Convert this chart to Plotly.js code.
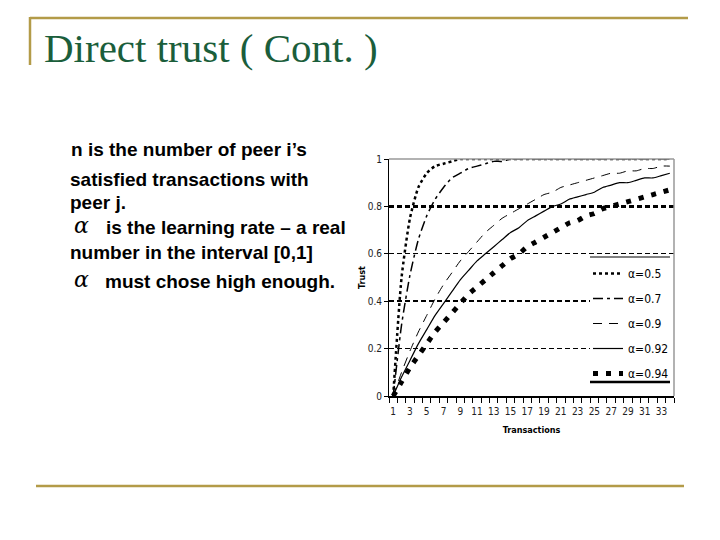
<!DOCTYPE html>
<html>
<head>
<meta charset="utf-8">
<script src="https://cdn.plot.ly/plotly-3.0.1.min.js"></script>
<style>
  html, body { margin: 0; padding: 0; background: #ffffff; }
  #chart { width: 720px; height: 540px; }
</style>
</head>
<body>
<div id="chart"></div>
<script>
// ---------- data ----------
const transactions = [1,2,3,4,5,6,7,8,9,10,11,12,13,14,15,16,17,18,19,20,21,22,23,24,25,26,27,28,29,30,31,32,33,34];
const seriesNames = ["α=0.5", "α=0.7", "α=0.9", "α=0.92", "α=0.94"];
const trust05 = [0,0.50,0.75,0.88,0.94,0.97,0.98,0.99,1.00,1.00,1.00,1.00,1.00,1.00,1.00,1.00,1.00,1.00,1.00,1.00,1.00,1.00,1.00,1.00,1.00,1.00,1.00,1.00,1.00,1.00,1.00,1.00,1.00,1.00];
const trust07 = [0,0.30,0.51,0.66,0.76,0.83,0.88,0.92,0.94,0.96,0.97,0.98,0.99,0.99,1.00,1.00,1.00,1.00,1.00,1.00,1.00,1.00,1.00,1.00,1.00,1.00,1.00,1.00,1.00,1.00,1.00,1.00,1.00,1.00];
const trust09 = [0,0.10,0.19,0.27,0.34,0.41,0.47,0.52,0.57,0.61,0.65,0.69,0.72,0.75,0.77,0.79,0.81,0.83,0.85,0.86,0.88,0.89,0.90,0.91,0.92,0.93,0.94,0.94,0.95,0.95,0.96,0.96,0.97,0.97];
const trust092 = [0,0.08,0.15,0.22,0.28,0.34,0.39,0.44,0.49,0.53,0.57,0.60,0.63,0.66,0.69,0.71,0.74,0.76,0.78,0.80,0.81,0.83,0.84,0.85,0.86,0.88,0.89,0.90,0.90,0.91,0.92,0.92,0.93,0.94];
const trust094 = [0,0.06,0.12,0.17,0.22,0.27,0.31,0.35,0.39,0.43,0.46,0.49,0.52,0.55,0.58,0.60,0.63,0.65,0.67,0.69,0.71,0.73,0.74,0.76,0.77,0.79,0.80,0.81,0.82,0.83,0.84,0.85,0.86,0.87];
const xTickLabels = transactions.filter(n => n % 2 === 1);
const yTickLabels = [0, 0.2, 0.4, 0.6, 0.8, 1];
const thickGridValues = [0.4, 0.8];

const slideTitle = "Direct trust ( Cont. )";
const bodyLines = [
  "n is the number of peer i’s",
  "satisfied transactions with",
  "peer j.",
  "is the learning rate – a real",
  "number in the interval [0,1]",
  "must chose high enough."
];
const alphaGlyph = "α";

// ---------- layout helpers ----------
const W = 720, H = 540;
const PL = 389, PR = 674, PT = 159, PB = 396;
const px2x = p => (p - PL) / (PR - PL);
const py2y = p => (PB - p) / (PB - PT);

const narrow = "Liberation Sans Narrow, DejaVu Sans Condensed, Arial Narrow, Liberation Sans, sans-serif";
const sans = "Liberation Sans, Arial, sans-serif";
const serif = "Liberation Serif, Times New Roman, serif";
const gold = "#b39b48";

const styles = [
  {width: 2.5, dash: "dot"},
  {width: 1.5, dash: "10px,4px,3px,4px"},
  {width: 1, dash: "9px,7px"},
  {width: 1.2, dash: "solid"},
  {width: 5, dash: "5px,8px"}
];
const values = [trust05, trust07, trust09, trust092, trust094];

const traces = values.map((v, i) => ({
  type: "scatter",
  mode: "lines",
  x: transactions,
  y: v,
  name: seriesNames[i],
  legendgroup: seriesNames[i],
  yaxis: i === 4 ? "y2" : "y",
  line: {color: "#000000", width: styles[i].width, dash: styles[i].dash, shape: "spline", smoothing: 0.6},
  hoverinfo: "skip"
}));

const bodyPos = [
  {x: 70, y: 149}, {x: 69, y: 179}, {x: 69, y: 202},
  {x: 105, y: 227}, {x: 69, y: 252}, {x: 104, y: 281}
];

const annotations = [
  {text: slideTitle, x: px2x(42), y: py2y(48), xref: "paper", yref: "paper",
   xanchor: "left", yanchor: "middle", showarrow: false,
   font: {family: serif, size: 41, color: "#1b5e3b"}}
].concat(bodyLines.map((t, i) => ({
  text: t, x: px2x(bodyPos[i].x), y: py2y(bodyPos[i].y), xref: "paper", yref: "paper",
  xanchor: "left", yanchor: "middle", showarrow: false, borderpad: 0,
  font: {family: sans, size: 19, color: "#000000", weight: "bold"}
}))).concat([225, 279].map(py => ({
  text: "<i>" + alphaGlyph + "</i>", x: px2x(73), y: py2y(py), xref: "paper", yref: "paper",
  xanchor: "left", yanchor: "middle", showarrow: false, borderpad: 0,
  font: {family: "DejaVu Serif, Liberation Serif, serif", size: 22, color: "#000000"}
})));

const shapes = [
  // slide decoration
  {type: "line", xref: "paper", yref: "paper", x0: px2x(30), x1: px2x(688), y0: py2y(18), y1: py2y(18), line: {color: gold, width: 2.5}},
  {type: "line", xref: "paper", yref: "paper", x0: px2x(30), x1: px2x(30), y0: py2y(17), y1: py2y(65), line: {color: gold, width: 2.5}},
  {type: "line", xref: "paper", yref: "paper", x0: px2x(36), x1: px2x(684), y0: py2y(486), y1: py2y(486), line: {color: gold, width: 2.5}},
  // legend backing (hides gridlines behind the key)
  {type: "rect", xref: "paper", yref: "paper", x0: px2x(590), x1: 1, y0: py2y(382), y1: py2y(257), line: {width: 0}, fillcolor: "#ffffff", layer: "above"},
  // plot frame (top / right)
  {type: "line", xref: "paper", yref: "paper", x0: 0, x1: 1, y0: 1, y1: 1, line: {color: "#999999", width: 1.5}, layer: "above"},
  {type: "line", xref: "paper", yref: "paper", x0: 1, x1: 1, y0: 0, y1: 1, line: {color: "#999999", width: 1.5}, layer: "above"},
  // legend rules
  {type: "line", xref: "paper", yref: "paper", x0: px2x(590), x1: px2x(670), y0: py2y(257), y1: py2y(257), line: {color: "#000000", width: 1}, layer: "above"},
  {type: "line", xref: "paper", yref: "paper", x0: px2x(590), x1: px2x(670), y0: py2y(382), y1: py2y(382), line: {color: "#000000", width: 2.5}, layer: "above"}
];

const layout = {
  width: W, height: H,
  margin: {l: PL, r: W - PR, t: PT, b: H - PB, pad: 0},
  paper_bgcolor: "#ffffff",
  plot_bgcolor: "#ffffff",
  showlegend: true,
  legend: {
    x: px2x(588), xanchor: "left", y: py2y(259), yanchor: "top",
    bgcolor: "rgba(0,0,0,0)", borderwidth: 0,
    font: {family: narrow, size: 12, color: "#000000"},
    traceorder: "grouped", tracegroupgap: 6, itemwidth: 30
  },
  xaxis: {
    range: [0.5, 34.5],
    tickmode: "array", tickvals: xTickLabels, ticktext: xTickLabels.map(String),
    ticks: "outside", ticklen: 5, tickcolor: "rgba(0,0,0,0)",
    minor: {tickmode: "linear", tick0: 0.5, dtick: 1, ticks: "outside", ticklen: 5, tickcolor: "#000000", tickwidth: 1, showgrid: false},
    showline: true, linecolor: "#000000", linewidth: 2,
    showgrid: false, zeroline: false,
    tickfont: {family: narrow, size: 10, color: "#222222"},
    title: {text: "Transactions", standoff: 11, font: {family: narrow, size: 9, color: "#000000", weight: "bold"}}
  },
  yaxis: {
    range: [0, 1],
    tickmode: "array", tickvals: yTickLabels, ticktext: yTickLabels.map(String),
    ticks: "outside", ticklen: 4, tickcolor: "#000000",
    showline: true, linecolor: "#000000", linewidth: 1,
    showgrid: true, gridcolor: "#000000", gridwidth: 1, griddash: "5px,3px",
    zeroline: false,
    tickfont: {family: narrow, size: 10, color: "#222222"},
    title: {text: "Trust", standoff: 0, font: {family: narrow, size: 9, color: "#000000", weight: "bold"}}
  },
  yaxis2: {
    overlaying: "y", side: "left",
    range: [0, 1],
    tickmode: "array", tickvals: thickGridValues,
    ticks: "", showticklabels: false, showline: false,
    showgrid: true, gridcolor: "#000000", gridwidth: 2.5, griddash: "5px,3px",
    zeroline: false
  },
  annotations: annotations,
  shapes: shapes
};

Plotly.newPlot("chart", traces, layout, {displayModeBar: false, staticPlot: true});
</script>
</body>
</html>
